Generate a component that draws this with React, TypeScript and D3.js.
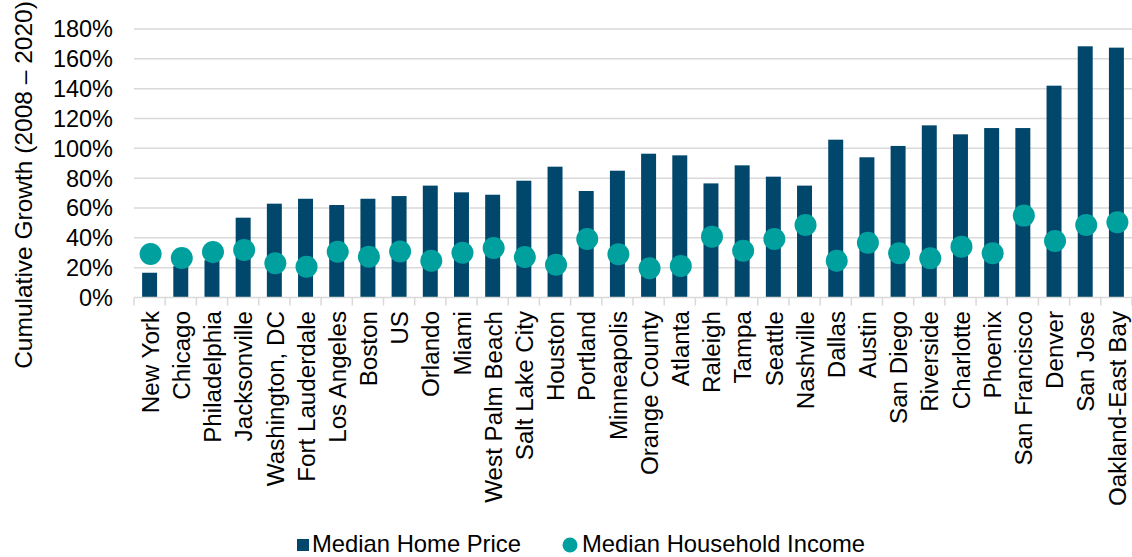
import React, { useEffect, useRef } from "react";
import * as d3 from "d3";

const cities = [
    "New York", "Chicago", "Philadelphia", "Jacksonville", "Washington, DC",
    "Fort Lauderdale", "Los Angeles", "Boston", "US", "Orlando", "Miami",
    "West Palm Beach", "Salt Lake City", "Houston", "Portland", "Minneapolis",
    "Orange County", "Atlanta", "Raleigh", "Tampa", "Seattle", "Nashville",
    "Dallas", "Austin", "San Diego", "Riverside", "Charlotte", "Phoenix",
    "San Francisco", "Denver", "San Jose", "Oakland-East Bay"
];

// cumulative growth 2008-2020, in percent
const homePrice = [
    16.6, 21, 25, 53.5, 62.9, 66.2, 62, 66.2, 68, 75, 70.5, 68.9, 78.3, 87.7,
    71.4, 85, 96.4, 95.3, 76.5, 88.6, 81, 75, 105.8, 94, 101.6, 115.4, 109.4,
    113.6, 113.6, 142, 168.4, 167.5
];
const householdIncome = [
    29.2, 26.5, 30.5, 31.8, 22.9, 20.6, 30.7, 27.4, 30.9, 24.7, 30, 33.2, 27.2,
    22, 39.2, 29, 19.6, 21.1, 40.8, 31.4, 39.2, 48.6, 24.7, 36.7, 29.6, 26.3,
    34.1, 29.6, 54.9, 37.9, 48.6, 50.4
];
const yTicks = [0, 20, 40, 60, 80, 100, 120, 140, 160, 180];
const seriesNames = ["Median Home Price", "Median Household Income"];

const BAR = "#00476b";
const DOT = "#00a09f";
const GRID = "#d9d9d9";
const FONT = "'Liberation Sans', Arial, sans-serif";

const App = () => {
    const chartRef = useRef<SVGSVGElement>(null);

    useEffect(() => {
        const svg = d3.select(chartRef.current);
        svg.selectAll("*").remove();

        const x = d3
            .scaleBand()
            .domain(cities)
            .range([134, 1132])
            .paddingInner(0.52)
            .paddingOuter(0.26);

        const y = d3.scaleLinear().domain([0, 180]).range([297.5, 29]);

        // gridlines
        svg.append("g")
            .selectAll("line")
            .data(yTicks.filter(t => t > 0))
            .enter()
            .append("line")
            .attr("x1", 134)
            .attr("x2", 1132)
            .attr("y1", d => y(d))
            .attr("y2", d => y(d))
            .attr("stroke", GRID)
            .attr("stroke-width", 1.5);

        // y tick labels
        svg.append("g")
            .selectAll("text")
            .data(yTicks)
            .enter()
            .append("text")
            .attr("x", 113)
            .attr("y", d => y(d))
            .attr("dy", "0.36em")
            .attr("text-anchor", "end")
            .attr("font-family", FONT)
            .attr("font-size", 23.5)
            .attr("fill", "#000")
            .text(d => d + "%");

        // bars
        svg.append("g")
            .selectAll("rect")
            .data(homePrice)
            .enter()
            .append("rect")
            .attr("x", (d, i) => x(cities[i]) as number)
            .attr("width", x.bandwidth())
            .attr("y", d => y(d))
            .attr("height", d => y(0) - y(d))
            .attr("fill", BAR);

        // x axis line + ticks between categories
        const step = x.step();
        const axis = svg.append("g").attr("stroke", GRID).attr("stroke-width", 1.5);
        axis.append("line")
            .attr("x1", 134)
            .attr("x2", 1132)
            .attr("y1", y(0))
            .attr("y2", y(0));
        axis.selectAll("line.tick")
            .data(d3.range(cities.length + 1))
            .enter()
            .append("line")
            .attr("class", "tick")
            .attr("x1", i => 134 + i * step)
            .attr("x2", i => 134 + i * step)
            .attr("y1", y(0))
            .attr("y2", y(0) + 8);

        // dots
        svg.append("g")
            .selectAll("circle")
            .data(householdIncome)
            .enter()
            .append("circle")
            .attr("cx", (d, i) => (x(cities[i]) as number) + x.bandwidth() / 2 + 1)
            .attr("cy", d => y(d))
            .attr("r", 11)
            .attr("fill", DOT);

        // category labels
        svg.append("g")
            .selectAll("text")
            .data(cities)
            .enter()
            .append("text")
            .attr("transform", d => `translate(${(x(d) as number) + x.bandwidth() / 2},311) rotate(-90)`)
            .attr("dy", "0.38em")
            .attr("text-anchor", "end")
            .attr("font-family", FONT)
            .attr("font-size", 24.2)
            .attr("fill", "#000")
            .text(d => d);

        // y axis title
        svg.append("text")
            .attr("transform", "translate(32,185) rotate(-90)")
            .attr("text-anchor", "middle")
            .attr("font-family", FONT)
            .attr("font-size", 24.5)
            .attr("fill", "#000")
            .text("Cumulative Growth (2008 \u2013 2020)");

        // legend
        const legend = svg.append("g").attr("font-family", FONT).attr("font-size", 23.8).attr("fill", "#000");
        legend.append("rect")
            .attr("x", 297)
            .attr("y", 539)
            .attr("width", 12)
            .attr("height", 12)
            .attr("fill", BAR);
        legend.append("text").attr("x", 312).attr("y", 552).text(seriesNames[0]);
        legend.append("circle")
            .attr("cx", 570)
            .attr("cy", 545)
            .attr("r", 7.5)
            .attr("fill", DOT);
        legend.append("text").attr("x", 582).attr("y", 552).text(seriesNames[1]);
    }, []);

    return (
        <svg
            ref={chartRef}
            width={1132}
            height={557}
            style={{ position: "absolute", left: 0, top: 0, background: "#fff" }}
        />
    );
};

export default App;
